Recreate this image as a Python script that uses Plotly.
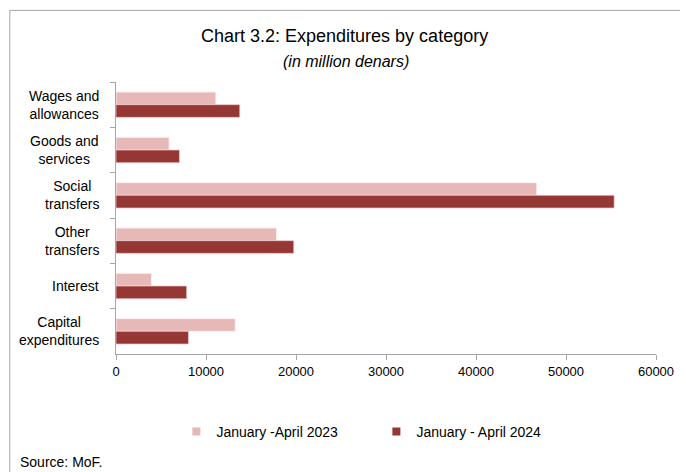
import plotly.graph_objects as go

categories = ["Wages and<br>allowances", "Goods and<br>services", "Social<br>transfers",
              "Other<br>transfers", "Interest", "Capital<br>expenditures"]
cat_keys = ["Wages", "Goods", "Social", "Other", "Interest", "Capital"]
values_2023 = [11100, 5900, 46750, 17850, 3950, 13250]
values_2024 = [13750, 7050, 55350, 19750, 7850, 8050]
series_names = ["January -April 2023", "January - April 2024"]
series_colors = ["#E6B9B8", "#953735"]
x_ticks = [0, 10000, 20000, 30000, 40000, 50000, 60000]

W, H = 686, 472
L, R, T, B = 115.5, 665.5, 81.7, 354.0
pw, ph = R - L, B - T

def px_x(p):
    return (p - L) / pw

def px_y(p):
    return (B - p) / ph

FONT = "Liberation Sans, Arial, sans-serif"

fig = go.Figure()
fig.add_trace(go.Bar(
    y=cat_keys, x=values_2023, orientation="h", name=series_names[0], showlegend=False,
    marker=dict(color=series_colors[0], line=dict(color="rgba(255,240,240,0.9)", width=1)),
))
fig.add_trace(go.Bar(
    y=cat_keys, x=values_2024, orientation="h", name=series_names[1], showlegend=False,
    marker=dict(color=series_colors[1], line=dict(color="rgba(240,200,200,0.7)", width=1)),
))
# legend entries with small square swatches
for name, col in zip(series_names, series_colors):
    fig.add_trace(go.Scatter(
        x=[None], y=[None], mode="markers", name=name,
        marker=dict(symbol="square", size=8, color=col, line=dict(width=0)),
    ))

annotations = []
for key, label in zip(cat_keys, categories):
    annotations.append(dict(
        x=px_x(100.5), xref="paper", y=key, yref="y", text=label, showarrow=False,
        xanchor="right", yanchor="middle", align="center",
        font=dict(family=FONT, size=14, color="#000000"),
    ))
annotations.append(dict(
    x=px_x(348), xref="paper", y=px_y(36), yref="paper",
    text="Chart 3.2: Expenditures by category", showarrow=False,
    xanchor="center", yanchor="middle", font=dict(family=FONT, size=18, color="#000000"),
))
annotations.append(dict(
    x=px_x(350), xref="paper", y=px_y(61), yref="paper",
    text="<i>(in million denars)</i>", showarrow=False,
    xanchor="center", yanchor="middle", font=dict(family=FONT, size=16, color="#000000"),
))
annotations.append(dict(
    x=px_x(16), xref="paper", y=px_y(462), yref="paper",
    text="Source: MoF.", showarrow=False,
    xanchor="left", yanchor="middle", font=dict(family=FONT, size=14, color="#000000"),
))

frame = dict(
    type="path", xref="paper", yref="paper",
    path=f"M {px_x(7.3)} {px_y(475)} L {px_x(7.3)} {px_y(10)} L {px_x(690)} {px_y(10)}",
    line=dict(color="#A6A6A6", width=1),
)

fig.update_layout(
    width=W, height=H,
    margin=dict(l=L, r=W - R, t=T, b=H - B, pad=0),
    paper_bgcolor="white", plot_bgcolor="white",
    barmode="group", bargap=0.44, bargroupgap=0,
    showlegend=True,
    legend=dict(
        orientation="h", x=px_x(177), xanchor="left", y=px_y(432), yanchor="middle",
        traceorder="normal", font=dict(family=FONT, size=14, color="#000000"),
        itemwidth=30, entrywidth=155, borderwidth=0, bgcolor="rgba(0,0,0,0)",
    ),
    annotations=annotations,
    shapes=[frame],
    xaxis=dict(
        range=[0, 60000], tickvals=x_ticks, ticktext=[str(v) for v in x_ticks],
        showgrid=False, zeroline=False, showline=True, linecolor="#A6A6A6", linewidth=1,
        ticks="outside", ticklen=5, tickcolor="#A6A6A6",
        tickfont=dict(family=FONT, size=13, color="#000000"),
    ),
    yaxis=dict(
        type="category", categoryorder="array", categoryarray=cat_keys,
        autorange="reversed", showticklabels=False,
        showgrid=False, zeroline=False, showline=True, linecolor="#A6A6A6", linewidth=1,
        ticks="outside", ticklen=5, tickcolor="#A6A6A6", tickson="boundaries",
    ),
)

fig.write_html("out.html", config={"displayModeBar": False},
               post_script="document.body.style.margin='0';document.body.style.overflow='hidden';")
